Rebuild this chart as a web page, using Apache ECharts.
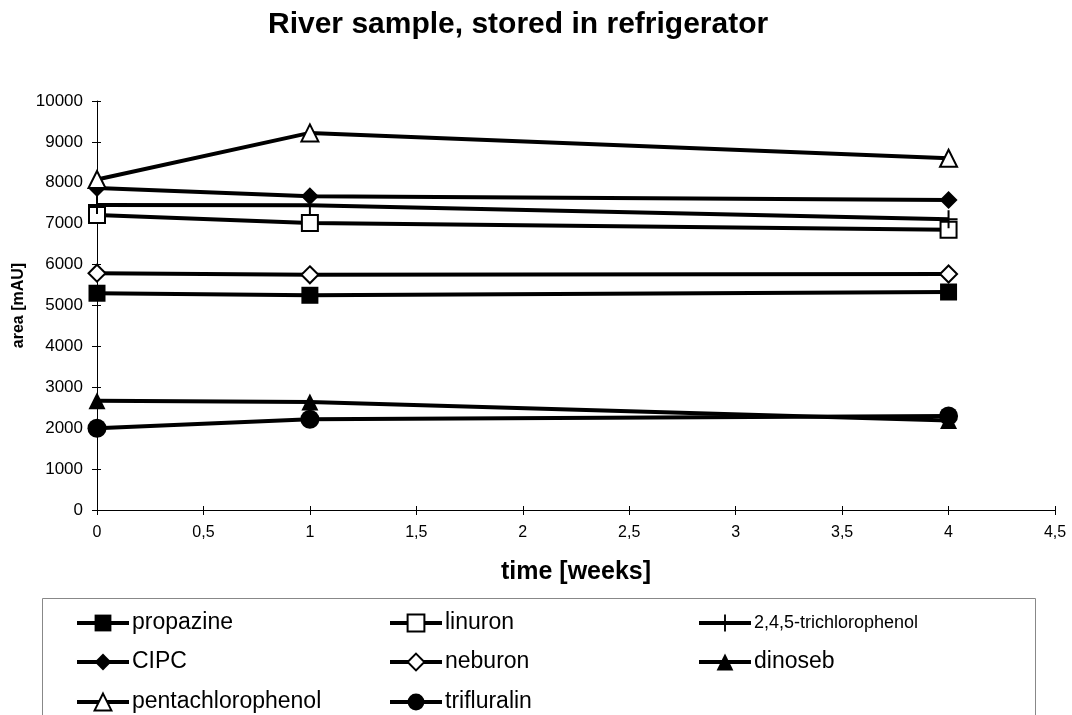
<!DOCTYPE html>
<html>
<head>
<meta charset="utf-8">
<script src="https://cdn.jsdelivr.net/npm/echarts@6/dist/echarts.min.js"></script>
<style>
html,body{margin:0;padding:0;background:#fff;}
#chart{width:1072px;height:715px;}
</style>
</head>
<body>
<div id="chart"></div>
<script>
// ---- data ----
const weeks = [0, 1, 4];
const propazine = [5300, 5250, 5330];
const linuron = [7210, 7020, 6850];
const trichlorophenol = [7460, 7450, 7110];
const CIPC = [7870, 7670, 7580];
const neburon = [5790, 5750, 5770];
const dinoseb = [2670, 2640, 2190];
const pentachlorophenol = [8080, 9220, 8600];
const trifluralin = [2000, 2220, 2300];

const titleText = 'River sample, stored in refrigerator';
const xName = 'time [weeks]';
const yName = 'area [mAU]';

const plusPath = 'path://M0,8 L8,8 L8,0 L10,0 L10,8 L18,8 L18,10 L10,10 L10,18 L8,18 L8,10 L0,10 Z';

const seriesDefs = [
  {name: 'propazine', data: propazine, symbol: 'rect', size: 17, filled: true},
  {name: 'linuron', data: linuron, symbol: 'rect', size: 16, filled: false},
  {name: '2,4,5-trichlorophenol', data: trichlorophenol, symbol: plusPath, size: 18, filled: true},
  {name: 'CIPC', data: CIPC, symbol: 'diamond', size: 18, filled: true},
  {name: 'neburon', data: neburon, symbol: 'diamond', size: 17, filled: false},
  {name: 'dinoseb', data: dinoseb, symbol: 'triangle', size: 17, filled: true},
  {name: 'pentachlorophenol', data: pentachlorophenol, symbol: 'triangle', size: 17, filled: false},
  {name: 'trifluralin', data: trifluralin, symbol: 'circle', size: 19, filled: true}
];

// legend layout (col, row)
const legendPos = [[0,0],[1,0],[2,0],[0,1],[1,1],[2,1],[0,2],[1,2]];
const colLeft = [75, 388, 697];
const rowCenter = [623, 662, 702];

const FONT = '"Liberation Sans", Arial, sans-serif';

const series = seriesDefs.map(d => ({
  name: d.name,
  type: 'line',
  xAxisIndex: 0,
  yAxisIndex: 0,
  data: d.data.map((v, i) => [weeks[i], v]),
  symbol: d.symbol,
  symbolSize: d.size,
  showSymbol: true,
  lineStyle: {color: '#000', width: 4},
  itemStyle: d.filled
    ? {color: '#000', borderColor: '#000', borderWidth: 0}
    : {color: '#fff', borderColor: '#000', borderWidth: 2},
  emphasis: {disabled: true},
  animation: false
}));

const legends = seriesDefs.map((d, i) => {
  const [c, r] = legendPos[i];
  const small = d.name === '2,4,5-trichlorophenol';
  return {
    data: [d.name],
    left: colLeft[c],
    top: rowCenter[r] - 12,
    itemWidth: 52,
    itemHeight: 21,
    padding: 0,
    selectedMode: false,
    lineStyle: {width: 4, color: '#000'},
    textStyle: {fontFamily: FONT, fontSize: small ? 18 : 23, color: '#000', lineHeight: 24, padding: [0,0,0,-2]}
  };
});

const xBase = {
  type: 'value', min: 0, max: 4.5, interval: 0.5,
  splitLine: {show: false}
};
const yBase = {
  type: 'value', min: 0, max: 10000, interval: 1000,
  splitLine: {show: false}
};

const chart = echarts.init(document.getElementById('chart'), null, {renderer: 'canvas'});
chart.setOption({
  backgroundColor: '#fff',
  animation: false,
  title: {
    text: titleText,
    left: 263,
    top: 5,
    textStyle: {fontFamily: FONT, fontSize: 30, fontWeight: 'bold', color: '#000'}
  },
  grid: {left: 97, right: 17, top: 101, bottom: 205, outerBoundsMode: 'none', containLabel: false},
  xAxis: [Object.assign({}, xBase, {
    position: 'bottom',
    name: xName,
    nameLocation: 'middle',
    nameGap: 50,
    nameMoveOverlap: false,
    nameTextStyle: {fontFamily: FONT, fontSize: 25, fontWeight: 'bold', color: '#000'},
    axisLine: {lineStyle: {color: '#000', width: 1}},
    axisTick: {show: true, length: 5, lineStyle: {color: '#000'}},
    axisLabel: {fontFamily: FONT, fontSize: 16, color: '#000', margin: 15,
      formatter: v => String(v).replace('.', ',')}
  }), Object.assign({}, xBase, {
    position: 'bottom',
    axisLine: {show: false},
    axisTick: {show: true, inside: true, length: 4, lineStyle: {color: '#000'}},
    axisLabel: {show: false}
  })],
  yAxis: [Object.assign({}, yBase, {
    position: 'left',
    name: yName,
    nameLocation: 'middle',
    nameRotate: 90,
    nameGap: 70,
    nameMoveOverlap: false,
    nameTextStyle: {fontFamily: FONT, fontSize: 16, fontWeight: 'bold', color: '#000'},
    axisLine: {show: true, lineStyle: {color: '#000', width: 1}},
    axisTick: {show: true, length: 5, lineStyle: {color: '#000'}},
    axisLabel: {fontFamily: FONT, fontSize: 17, color: '#000', margin: 14,
      formatter: v => String(v)}
  }), Object.assign({}, yBase, {
    position: 'left',
    axisLine: {show: false},
    axisTick: {show: true, inside: true, length: 4, lineStyle: {color: '#000'}},
    axisLabel: {show: false}
  })],
  legend: legends,
  graphic: [{
    type: 'rect',
    shape: {x: 42.5, y: 598.5, width: 993, height: 130},
    style: {fill: 'none', stroke: '#888', lineWidth: 1},
    silent: true
  }],
  series: series
});
</script>
</body>
</html>
